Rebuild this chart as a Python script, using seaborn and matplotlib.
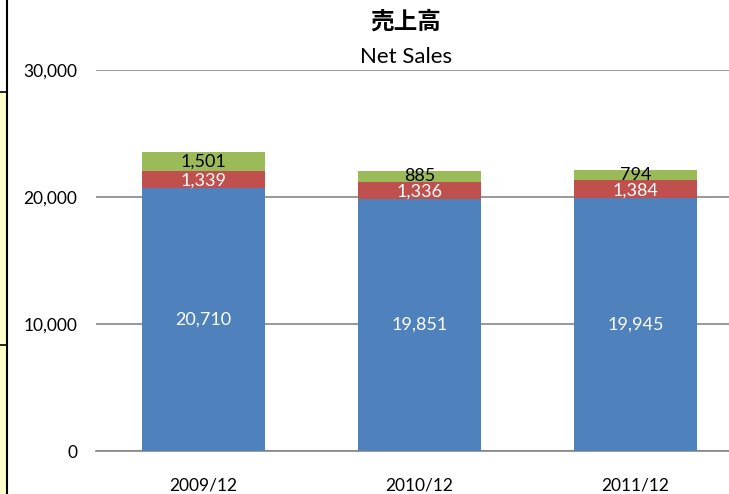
import matplotlib
matplotlib.use('Agg')
import matplotlib.pyplot as plt
import matplotlib.patches as mpatches
from matplotlib.lines import Line2D
import pandas as pd
import seaborn as sns

# Données du graphique
years = ['2009/12', '2010/12', '2011/12']
blue_vals = [20710, 19851, 19945]
red_vals = [1339, 1336, 1384]
green_vals = [1501, 885, 794]

df = pd.DataFrame({'year': years, 'blue': blue_vals, 'red': red_vals, 'green': green_vals})
df['blue_red'] = df['blue'] + df['red']
df['total'] = df['blue_red'] + df['green']

sns.set_theme(style='white')
plt.rcParams['font.family'] = ['Lato', 'Noto Sans CJK JP', 'DejaVu Sans']

fig = plt.figure(figsize=(7.29, 4.94), dpi=100)
ax = fig.add_axes([95.5 / 729, 43 / 494, 648 / 729, 381 / 494])

# Barres empilées: on dessine le total puis on recouvre
bar_kw = dict(width=0.57, saturation=1, ax=ax, zorder=3, edgecolor='none', linewidth=0)
sns.barplot(data=df, x='year', y='total', color='#9BBB59', **bar_kw)
sns.barplot(data=df, x='year', y='blue_red', color='#C0504D', **bar_kw)
sns.barplot(data=df, x='year', y='blue', color='#4F81BD', **bar_kw)

for i, row in df.iterrows():
    ax.text(i, row['blue'] / 2, f"{row['blue']:,}", ha='center', va='center', color='white', fontsize=13, zorder=4)
    ax.text(i, row['blue'] + row['red'] / 2 - 100, f"{row['red']:,}", ha='center', va='center', color='white', fontsize=13, zorder=4)
    ax.text(i, row['blue_red'] + row['green'] / 2, f"{row['green']:,}", ha='center', va='center', color='black', fontsize=13, zorder=4)

ax.set_xlim(-0.5, 2.5)
ax.set_ylim(0, 30000)
ax.set_yticks([0, 10000, 20000, 30000])
ax.set_yticklabels(['0', '10,000', '20,000', '30,000'])
ax.yaxis.grid(True, color='#868686', linewidth=1.2, zorder=0)
ax.set_axisbelow(True)
ax.tick_params(axis='y', labelsize=12.5, colors='black', pad=13, length=0)
ax.tick_params(axis='x', labelsize=12.5, colors='black', pad=19, length=0)
ax.set_xlabel('')
ax.set_ylabel('')
for side in ['top', 'right', 'left']:
    ax.spines[side].set_visible(False)
ax.spines['bottom'].set_color('#868686')
ax.spines['bottom'].set_linewidth(1.2)

# Titres
fig.text(406 / 729, 1 - 22 / 494, '売上高', ha='center', va='center', fontsize=17, fontweight='bold',
         family=['Noto Sans CJK JP', 'DejaVu Sans'], color='black')
fig.text(406 / 729, 1 - 57 / 494, 'Net Sales', ha='center', va='center', fontsize=16, color='black')

# Bord gauche (capture d'écran)
fig.add_artist(mpatches.Rectangle((0, 0), 6 / 729, 1 - 92 / 494, transform=fig.transFigure,
                                  facecolor='#FFFFCC', edgecolor='none'))
fig.add_artist(Line2D([6.5 / 729, 6.5 / 729], [0, 1], transform=fig.transFigure, color='black', linewidth=1.5))
for yy in [92, 345]:
    fig.add_artist(Line2D([0, 6 / 729], [1 - yy / 494, 1 - yy / 494], transform=fig.transFigure,
                          color='black', linewidth=1.2))

fig.savefig('out.png', dpi=100)
